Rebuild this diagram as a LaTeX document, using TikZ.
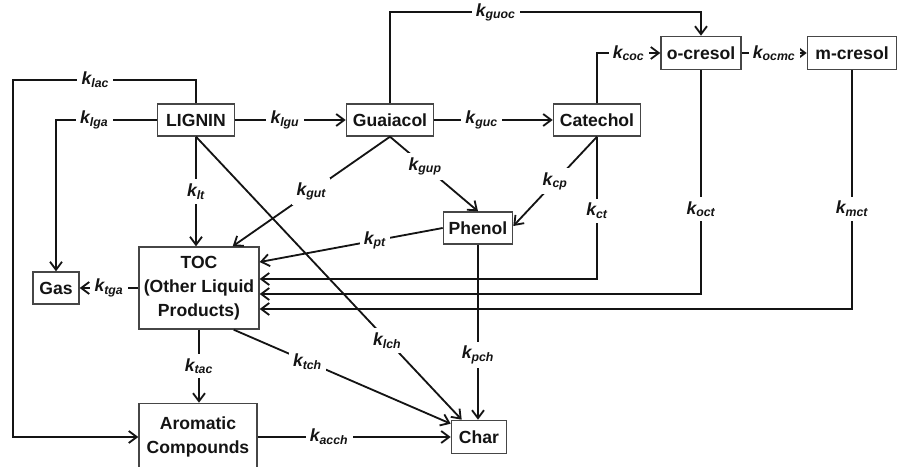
\documentclass[tikz,border=0pt]{standalone}
\usepackage{fontspec}
\setmainfont{Liberation Sans}
\definecolor{kline}{RGB}{20,20,20}
\definecolor{kbox}{RGB}{70,70,70}
\usetikzlibrary{arrows.meta,calc}
\tikzset{
    species/.style={
        draw=kbox, line width=1pt, fill=white, inner sep=2pt,
        align=center, font=\fontsize{12.5}{17}\selectfont\bfseries, text=kline
    },
    flow/.style={
        -{Straight Barb[length=2mm,width=3mm]}, line width=1.3pt, draw=kline
    },
    rate/.style={
        fill=white, inner sep=3pt,
        font=\fontsize{12.5}{14}\selectfont\bfseries\itshape, text=kline
    }
}
\newcommand{\kr}[1]{k\textsubscript{#1}}
\begin{document}
\begin{tikzpicture}[x=0.025cm, y=-0.025cm]
\useasboundingbox (0,0) rectangle (898,466);
% species
\node[species, minimum width=1.93cm, minimum height=.8cm] (lig) at (196,120) {LIGNIN};
\node[species, minimum width=2.18cm, minimum height=.8cm] (gua) at (390,120) {Guaiacol};
\node[species, minimum width=2.18cm, minimum height=.8cm] (cat) at (597,120) {Catechol};
\node[species, minimum width=2cm, minimum height=.83cm] (ocr) at (701,53) {o-cresol};
\node[species, minimum width=2.23cm, minimum height=.83cm] (mcr) at (852,53) {m-cresol};
\node[species, minimum width=1.73cm, minimum height=.8cm] (phe) at (478,228) {Phenol};
\node[species, minimum width=3cm, minimum height=2.05cm] (toc) at (199,288) {TOC\\(Other Liquid\\Products)};
\node[species, minimum width=1.15cm, minimum height=.8cm] (gas) at (56,288) {Gas};
\node[species, minimum width=2.95cm, minimum height=1.68cm] (aro) at (198,437) {Aromatic\\Compounds};
\node[species, minimum width=1.38cm, minimum height=.83cm] (chr) at (479,437) {Char};
% lignin routes
\draw[flow] (lig.north) |- (13,80) node[rate, pos=.775] {\kr{lac}} |- (aro.west);
\draw[flow] (lig.west) -| (gas.north) node[rate, pos=.31] {\kr{lga}};
\draw[flow] (lig) -- node[rate, pos=.45] {\kr{lgu}} (gua);
\draw[flow] (lig.south) -- node[rate] {\kr{lt}} (lig.south |- toc.north);
\draw[flow] (lig.south) -- node[rate, pos=.72] {\kr{lch}} ($(chr.north west)+(11,0)$);
% guaiacol routes
\draw[flow] (gua.north) -- ++(0,-91) -| (ocr.north) node[rate, pos=.17] {\kr{guoc}};
\draw[flow] (gua) -- node[rate, pos=.4] {\kr{guc}} (cat);
\draw[flow] (gua.south) -- node[rate] {\kr{gut}} ($(toc.north east)+(-27,0)$);
\draw[flow] (gua.south) -- node[rate, pos=.4] {\kr{gup}} (phe.north);
% catechol and cresols
\draw[flow] (cat.north) |- (ocr.west) node[rate, pos=.75] {\kr{coc}};
\draw[flow] (ocr) -- node[rate] {\kr{ocmc}} (mcr);
\draw[flow] (cat.south) -- node[rate] {\kr{cp}} ($(phe.east)+(0,-2)$);
\draw[flow] (cat.south) |- ($(toc.east)+(0,-9)$) node[rate, pos=.26] {\kr{ct}};
\draw[flow] (ocr.south) |- ($(toc.east)+(0,6)$) node[rate, pos=.31] {\kr{oct}};
\draw[flow] (mcr.south) |- ($(toc.east)+(0,21)$) node[rate, pos=.29] {\kr{mct}};
% phenol and toc
\draw[flow] (phe.west) -- node[rate, pos=.37] {\kr{pt}} ($(toc.east)+(0,-26)$);
\draw[flow] (phe.south) -- node[rate, pos=.63] {\kr{pch}} (phe.south |- chr.north);
\draw[flow] (toc.west) -- node[rate] {\kr{tga}} (gas.east);
\draw[flow] (toc.south) -- node[rate] {\kr{tac}} (toc.south |- aro.north);
\draw[flow] ($(toc.south east)+(-26,0)$) -- node[rate, pos=.34] {\kr{tch}} ($(chr.north west)+(0,4)$);
\draw[flow] (aro.east) -- node[rate, pos=.37] {\kr{acch}} (chr.west);
\end{tikzpicture}
\end{document}
